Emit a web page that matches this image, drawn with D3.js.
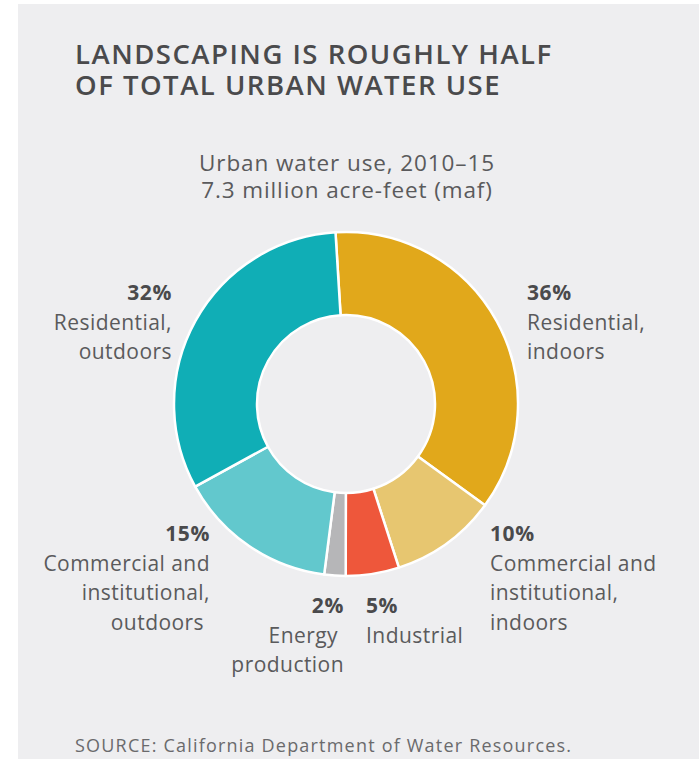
<!DOCTYPE html>
<html>
<head>
<meta charset="utf-8">
<script src="https://cdn.jsdelivr.net/npm/d3@7"></script>
<style>
  html, body { margin: 0; padding: 0; background: #ffffff; }
  svg { display: block; }
  text { font-family: "Open Sans", "Noto Sans", sans-serif; }
</style>
</head>
<body>
<script>
// Urban water use shares, 2010–15 (percent of 7.3 maf)
const categories = [
  "Residential, indoors",
  "Commercial and institutional, indoors",
  "Industrial",
  "Energy production",
  "Commercial and institutional, outdoors",
  "Residential, outdoors"
];
const shares = [36, 10, 5, 2, 15, 32];
const colors = ["#e1a81b", "#e7c670", "#ee573b", "#b6b6b8", "#62c8cd", "#10aeb6"];

const titleLines = ["LANDSCAPING IS ROUGHLY HALF", "OF TOTAL URBAN WATER USE"];
const subtitleLines = ["Urban water use, 2010–15", "7.3 million acre-feet (maf)"];
const sourceText = "SOURCE: California Department of Water Resources.";

// Category wording shown under each percentage
const labelLines = [
  ["Residential,", "indoors"],
  ["Commercial and", "institutional,", "indoors"],
  ["Industrial"],
  ["Energy\u00a0", "production"],
  ["Commercial and", "institutional,", "outdoors\u00a0"],
  ["Residential,", "outdoors"]
];

const W = 699, H = 759;
const svg = d3.select("body").append("svg").attr("width", W).attr("height", H);

// panel background
svg.append("rect").attr("x", 18).attr("y", 4).attr("width", W - 18).attr("height", H - 4)
  .attr("fill", "#eeeef0");

// multi-line text block drawn as one <text> with a tspan per line
function textBlock(parent, lines, x, y, lh, anchor) {
  const t = parent.append("text").attr("x", x).attr("y", y).attr("text-anchor", anchor);
  t.selectAll("tspan").data(lines).join("tspan")
    .attr("x", x).attr("dy", (d, i) => i === 0 ? 0 : lh)
    .text(d => d);
  return t;
}

// title
textBlock(svg, titleLines, 75, 64, 31, "start")
  .attr("font-size", 27.5).attr("font-weight", 600).attr("fill", "#4a4a4c")
  .attr("letter-spacing", 1.5);

// subtitle
textBlock(svg, subtitleLines, 347, 171, 27, "middle")
  .attr("font-size", 22.5).attr("fill", "#5a5a5c")
  .attr("letter-spacing", 0.9);

// donut
const cx = 346, cy = 404, rOuter = 172, rInner = 89;
const startOffset = -3.5 * Math.PI / 180;
const pie = d3.pie().sort(null).value(d => d)
  .startAngle(startOffset).endAngle(startOffset + 2 * Math.PI);
const arc = d3.arc().innerRadius(rInner).outerRadius(rOuter);

const g = svg.append("g").attr("transform", `translate(${cx},${cy})`);
g.selectAll("path").data(pie(shares)).join("path")
  .attr("d", arc)
  .attr("fill", (d, i) => colors[i])
  .attr("stroke", "#ffffff")
  .attr("stroke-width", 2.5)
  .attr("stroke-linejoin", "round");

// label placement (anchor point, alignment) per category
const labelPos = [
  { x: 527, y: 300, anchor: "start" },
  { x: 490, y: 541, anchor: "start" },
  { x: 366, y: 613, anchor: "start" },
  { x: 344, y: 613, anchor: "end" },
  { x: 210, y: 541, anchor: "end" },
  { x: 172, y: 300, anchor: "end" }
];
const lineH = 29.5;

const labels = svg.append("g").selectAll("g").data(shares).join("g");
labels.each(function (v, i) {
  const p = labelPos[i];
  const el = d3.select(this);
  el.append("text")
    .attr("x", p.x).attr("y", p.y)
    .attr("text-anchor", p.anchor)
    .attr("font-size", 21).attr("font-weight", 700).attr("fill", "#4a4a4c")
    .attr("letter-spacing", 0.6)
    .text(v + "%");
  textBlock(el, labelLines[i], p.x, p.y + lineH, lineH, p.anchor)
    .attr("font-size", 21).attr("fill", "#5a5a5c")
    .attr("letter-spacing", 0.45);
});

// source note
svg.append("text")
  .attr("x", 75).attr("y", 752)
  .attr("font-size", 18).attr("fill", "#6a6a6c")
  .attr("letter-spacing", 1.2)
  .text(sourceText);
</script>
</body>
</html>
